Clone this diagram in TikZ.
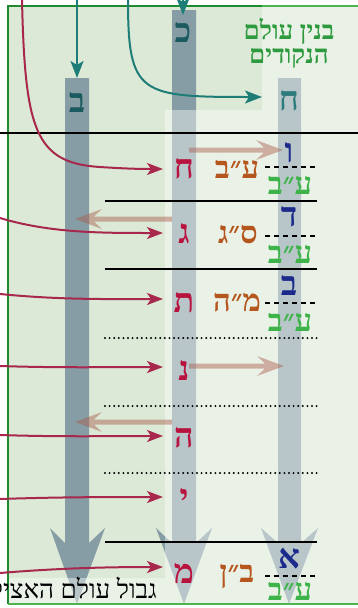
\documentclass[tikz,border=0pt]{standalone}
\usepackage{fontspec}
\newfontfamily\heb[Script=Hebrew]{Liberation Serif}
\TeXXeTstate=1
\usetikzlibrary{arrows.meta}
\definecolor{bgdark}{HTML}{DCE9D6}
\definecolor{barc}{HTML}{869DA5}
\definecolor{crim}{HTML}{A8284D}
\definecolor{redl}{HTML}{B8133F}
\definecolor{navy}{HTML}{1C2A8C}
\definecolor{brownl}{HTML}{B5561E}
\definecolor{greenl}{HTML}{3DB34A}
\definecolor{titleg}{HTML}{2E9A3E}
\definecolor{tealc}{HTML}{1E7D77}
\definecolor{topl}{HTML}{1B5A5E}
\definecolor{topr}{HTML}{2E7B7D}
\definecolor{pinkc}{HTML}{A85A4A}
\definecolor{framed}{HTML}{1F8A2D}
\definecolor{framel}{HTML}{4DB34F}
\newcommand\pinkarr[4]{\fill[pinkc, fill opacity=.45] ({#1},{#3-2.5}) -- ({#2-(#4)*19},{#3-2.5}) -- ({#2-(#4)*27},{#3-10}) -- ({#2},{#3}) -- ({#2-(#4)*27},{#3+10}) -- ({#2-(#4)*19},{#3+2.5}) -- ({#1},{#3+2.5}) -- cycle;}
\tikzset{
  letter/.style={font=\heb\bfseries\fontsize{34}{34}\selectfont, inner sep=0pt, anchor=base},
  lbl/.style={font=\heb\bfseries\fontsize{31}{31}\selectfont, inner sep=0pt, anchor=base},
  titl/.style={font=\heb\bfseries\fontsize{26}{24}\selectfont, inner sep=0pt, align=center, text=titleg},
  redarr/.style={draw=crim, line width=2pt, -{Stealth[length=16pt,width=12pt,inset=4pt]}},
  tealarr/.style={draw=tealc, line width=2pt, -{Stealth[length=17pt,width=13pt,inset=4pt]}},
  solidln/.style={line width=1.8pt, black},
  dotln/.style={line width=2.2pt, black, line cap=round, dash pattern=on 0pt off 4.6pt},
  dashln/.style={line width=1.8pt, black, dash pattern=on 5pt off 4pt}
}
\begin{document}
\begin{tikzpicture}[x=1pt,y=-1pt]
\clip (0,0) rectangle (358,608);
\fill[white] (0,0) rectangle (358,608);
\fill[bgdark] (8,6) rectangle (360,604);
% bars
\fill[barc] (65,78) -- (89,78) -- (89,543) -- (105,528) -- (77,604) -- (50,528) -- (65,543) -- cycle;
\fill[barc] (172,10) -- (196,10) -- (196,543) -- (212,528) -- (184,604) -- (156,528) -- (172,543) -- cycle;
\fill[barc] (278,78) -- (301,78) -- (301,543) -- (318,528) -- (289,604) -- (261,528) -- (278,543) -- cycle;
% light overlay
\fill[white, fill opacity=.42] (262,6) -- (360,6) -- (360,604) -- (8,604) -- (8,578) -- (165,578) -- (165,110) -- (262,110) -- cycle;
% frame
\draw[framed, line width=2pt] (262,6) -- (8,6) -- (8,604);
\draw[framel, line width=2pt] (262,6) -- (360,6);
\draw[framel, line width=2pt] (8,604) -- (360,604);
% title
\node[titl, anchor=north] (ti) at (289,18) {\beginR בנין עולם\endR\\\beginR הנקודים\endR};
% horizontal lines
\draw[line width=2pt] (0,133) -- (358,133);
\draw[solidln] (105,201) -- (317,201);
\draw[solidln] (105,269) -- (317,269);
\draw[solidln] (105,542) -- (317,542);
\draw[dotln] (105,338) -- (317,338);
\draw[dotln] (105,406) -- (317,406);
\draw[dotln] (105,473) -- (317,473);
\draw[dashln] (265,167) -- (317,167);
\draw[dashln] (265,236) -- (317,236);
\draw[dashln] (265,303) -- (317,303);
\draw[dashln] (265,576) -- (317,576);
% pink arrows
\pinkarr{189}{283}{150}{1}
\pinkarr{172}{75}{219}{-1}
\pinkarr{189}{284}{366}{1}
\pinkarr{172}{75}{422}{-1}
% top letters
\node[letter, text=topl] (lB) at (77,112) {ב};
\node[letter, text=topl] (mK) at (183,42) {כ};
\node[letter, text=topr] (rH) at (289,110) {ח};
% red letters
\node[letter, text=redl] (r1) at (184,178) {ח};
\node[letter, text=redl] (r2) at (184,243) {ג};
\node[letter, text=redl] (r3) at (184,312) {ת};
\node[letter, text=redl] (r4) at (184,380) {נ};
\node[letter, text=redl] (r5) at (184,447) {ה};
\node[letter, text=redl] (r6) at (184,508) {י};
\node[letter, text=redl] (r7) at (184,583) {מ};
% blue letters
\node[letter, text=navy] (b1) at (289,162) {ו};
\node[letter, text=navy] (b2) at (289,226) {ד};
\node[letter, text=navy] (b3) at (289,295) {ב};
\node[letter, text=navy] (b4) at (289,568) {א};
% brown labels
\node[lbl, text=brownl] (w1) at (237,178) {\beginR ע״ב\endR};
\node[lbl, text=brownl] (w2) at (238,243) {\beginR ס״ג\endR};
\node[lbl, text=brownl] (w3) at (237,311) {\beginR מ״ה\endR};
\node[lbl, text=brownl] (w4) at (237,582) {\beginR ב״ן\endR};
% green labels
\node[lbl, text=greenl] (g1) at (290,194) {\beginR ע״ב\endR};
\node[lbl, text=greenl] (g2) at (290,263) {\beginR ע״ב\endR};
\node[lbl, text=greenl] (g3) at (290,331) {\beginR ע״ב\endR};
\node[lbl, text=greenl] (g4) at (290,600) {\beginR ע״ב\endR};
% bottom text
\node[font=\heb\fontsize{26}{26}\selectfont, inner sep=0pt, anchor=base east] (bt) at (157,598) {\beginR גבול עולם האצילות\endR};
% teal arrows
\coordinate (c1) at (77,0); \coordinate (c1e) at (77,78);
\coordinate (c2) at (183,0); \coordinate (c2e) at (183,15);
\coordinate (c3) at (128,0); \coordinate (c3e) at (262,97);
\draw[tealarr] (c1) -- (c1e);
\draw[tealarr] (c2) -- (c2e);
\draw[tealarr] (c3) .. controls (128,95) and (140,97) .. (c3e);
% red arrows
\coordinate (a1) at (22,0);   \coordinate (e1) at (163,169);
\coordinate (a2) at (0,218);  \coordinate (e2) at (163,233);
\coordinate (a3) at (0,294);  \coordinate (e3) at (163,299);
\coordinate (a4) at (0,366);  \coordinate (e4) at (163,367);
\coordinate (a5) at (0,435);  \coordinate (e5) at (163,436);
\coordinate (a6) at (0,499);  \coordinate (e6) at (163,497);
\coordinate (a7) at (0,573);  \coordinate (e7) at (163,567);
\draw[redarr] (a1) .. controls (25,130) and (35,163) .. (100,167) .. controls (130,169) and (145,169) .. (e1);
\draw[redarr] (a2) .. controls (50,233) and (100,233) .. (e2);
\draw[redarr] (a3) .. controls (60,300) and (110,299) .. (e3);
\draw[redarr] (a4) .. controls (60,368) and (110,367) .. (e4);
\draw[redarr] (a5) .. controls (60,437) and (110,436) .. (e5);
\draw[redarr] (a6) .. controls (60,497) and (110,497) .. (e6);
\draw[redarr] (a7) .. controls (60,568) and (110,567) .. (e7);
\end{tikzpicture}
\end{document}
